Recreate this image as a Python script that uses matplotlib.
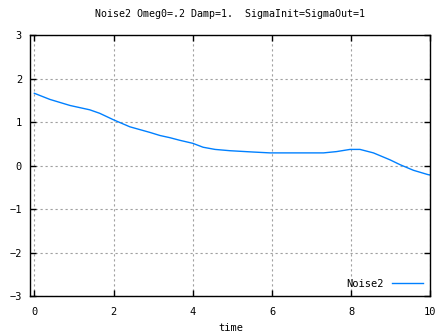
import numpy as np
import matplotlib
matplotlib.use('Agg')
import matplotlib.pyplot as plt

# values
time = [0.0, 0.39, 0.9, 1.4, 1.65, 2.0, 2.41, 2.92, 3.17, 3.42, 3.67, 4.0, 4.26,
        4.56, 4.94, 5.52, 5.95, 6.45, 6.7, 7.3, 7.63, 7.97, 8.22, 8.56, 8.98,
        9.23, 9.57, 9.94, 10.0]
noise2 = [1.66, 1.52, 1.38, 1.28, 1.20, 1.05, 0.89, 0.76, 0.69, 0.64, 0.58, 0.51,
          0.42, 0.37, 0.34, 0.31, 0.29, 0.29, 0.29, 0.29, 0.32, 0.37, 0.37, 0.29,
          0.13, 0.02, -0.11, -0.21, -0.22]

xticks = [0, 2, 4, 6, 8, 10]
yticks = [-3, -2, -1, 0, 1, 2, 3]

plt.rcParams['font.family'] = 'DejaVu Sans Mono'
plt.rcParams['font.size'] = 7

fig = plt.figure(figsize=(4.47, 3.35), dpi=100)
ax = fig.add_axes([0.068, 0.1164, 0.895, 0.7791])

ax.plot(time, noise2, color='#0080ff', lw=1.0, label='Noise2')

ax.set_xlim(-0.1, 10)
ax.set_ylim(-3, 3)
ax.set_xticks(xticks)
ax.set_yticks(yticks)
ax.tick_params(direction='in', top=True, right=True, length=4, width=1,
               labelsize=7.5)
ax.tick_params(axis='x', pad=8)
ax.tick_params(axis='y', pad=6)
for s in ax.spines.values():
    s.set_linewidth(1.0)

ax.grid(True, color='#a0a0a0', linestyle=(0, (2, 2.5)), linewidth=0.8)

ax.set_title('Noise2 Omeg0=.2 Damp=1.  SigmaInit=SigmaOut=1', fontsize=7.2, pad=13)
ax.set_xlabel('time', fontsize=7.5, labelpad=4)

ax.legend(loc='lower right', frameon=False, markerfirst=False, handlelength=3,
          fontsize=7.5, borderaxespad=0.3)

fig.savefig('out.png', dpi=100)
